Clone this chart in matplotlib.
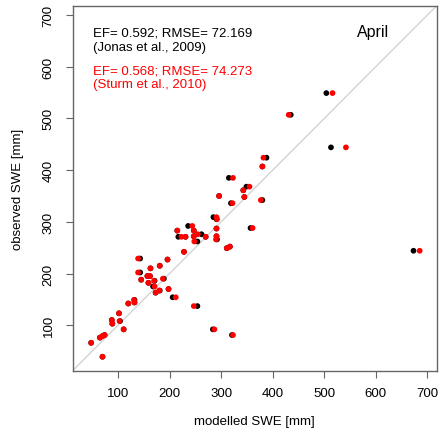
import matplotlib
matplotlib.use("Agg")
import matplotlib.pyplot as plt

plt.rcParams['font.family'] = ['Liberation Sans', 'DejaVu Sans']

# modelled SWE (Jonas et al. 2009 / Sturm et al. 2010) vs observed SWE, April
obs_swe = [549, 507, 444, 424, 407, 385, 368, 361, 348, 350, 336, 342, 309, 305,
           288, 292, 283, 287, 283, 271, 271, 272, 276, 271, 272, 266, 262, 249,
           252, 242, 229, 227, 215, 210, 202, 195, 195, 190, 188, 186, 182, 175,
           167, 163, 170, 154, 137, 92, 81, 149, 144, 142, 123, 110, 108, 103,
           92, 76, 79, 81, 66, 39, 244]
jonas_swe = [504, 435, 513, 388, 380, 315, 349, 343, 345, 296, 319, 380, 285, 291,
             357, 236, 215, 291, 247, 217, 231, 247, 262, 270, 291, 292, 254, 311,
             317, 228, 143, 196, 181, 163, 143, 157, 162, 189, 145, 171, 159, 168,
             181, 173, 198, 206, 254, 284, 321, 132, 132, 120, 102, 88, 104, 89,
             111, 65, 70, 74, 48, 70, 673]
sturm_swe = [516, 431, 542, 382, 380, 323, 355, 343, 345, 296, 322, 377, 291, 292,
             361, 244, 215, 291, 247, 223, 231, 247, 255, 270, 291, 290, 248, 311,
             317, 228, 139, 196, 181, 163, 139, 157, 162, 187, 145, 170, 159, 171,
             180, 173, 198, 212, 247, 287, 323, 131, 132, 120, 102, 88, 103, 89,
             111, 65, 70, 74, 48, 70, 685]
ticks = [100, 200, 300, 400, 500, 600, 700]

fig = plt.figure(figsize=(4.4, 4.39), dpi=100)
ax = fig.add_axes([0.165, 0.1533, 0.8275, 0.8314])

lims = (12, 718)
ax.plot(lims, lims, color='#d3d3d3', lw=1, zorder=1)
ax.scatter(jonas_swe, obs_swe, s=17, color='black', edgecolors='none', zorder=2)
ax.scatter(sturm_swe, obs_swe, s=17, color='red', edgecolors='none', zorder=3)
ax.set_xlim(lims)
ax.set_ylim(lims)

ax.set_xticks(ticks)
ax.set_yticks(ticks)
for s in ax.spines.values():
    s.set_color('#666666')
    s.set_linewidth(1)
ax.tick_params(length=5, width=0.8, color='#666666', labelsize=9.5, pad=7)
ax.tick_params(axis='y', labelrotation=90, pad=8)
for lab in ax.get_yticklabels():
    lab.set_va('center')

ax.set_xlabel('modelled SWE [mm]', fontsize=9.5)
ax.set_ylabel('observed SWE [mm]', fontsize=9.5)
ax.xaxis.set_label_coords(0.5, -0.137)
ax.yaxis.set_label_coords(-0.150, 0.5)
ax.xaxis.label.set_va('center')
ax.yaxis.label.set_va('center')

# stats annotations
ax.text(0.057, 0.918, 'EF= 0.592; RMSE= 72.169', transform=ax.transAxes,
        fontsize=9.5, va='baseline', color='black')
ax.text(0.057, 0.879, '(Jonas et al., 2009)', transform=ax.transAxes,
        fontsize=9.5, va='baseline', color='black')
ax.text(0.057, 0.8155, 'EF= 0.568; RMSE= 74.273', transform=ax.transAxes,
        fontsize=9.5, va='baseline', color='red')
ax.text(0.057, 0.777, '(Sturm et al., 2010)', transform=ax.transAxes,
        fontsize=9.5, va='baseline', color='red')
ax.text(0.780, 0.929, 'April', transform=ax.transAxes,
        fontsize=11.5, va='center', color='black')

fig.savefig('out.png', dpi=100)
